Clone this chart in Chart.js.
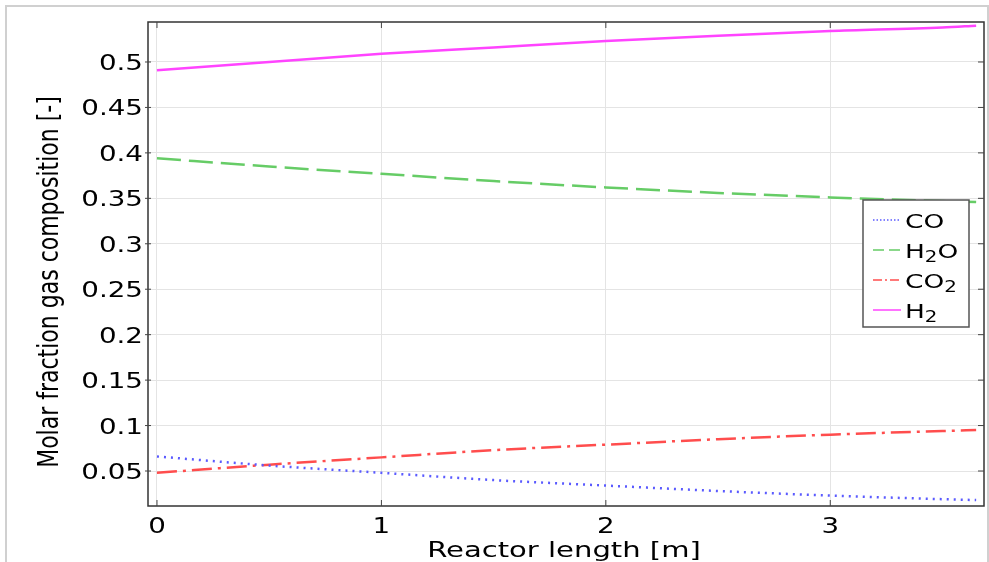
<!DOCTYPE html>
<html lang="en">
<head>
<meta charset="UTF-8">
<title>Molar fraction</title>
<script src="https://cdn.jsdelivr.net/npm/chart.js"></script>
<style>
    html, body { margin: 0; padding: 0; background: #fff; overflow: hidden; }
    #frame { position: absolute; left: 5px; top: 5px; width: 980px; height: 570px; border: 2px solid #d0d0d0; }
    #box { position: absolute; left: 0; top: 0; width: 989px; height: 562px; }
</style>
</head>
<body>
<div id="frame"></div>
<div id="box"><canvas id="myChart"></canvas></div>
<script>
    // dados
    var posicoes = [0, 0.5, 1, 1.5, 2, 2.5, 3, 3.5, 3.65];
    var serieCO  = [0.066, 0.056, 0.048, 0.040, 0.034, 0.028, 0.023, 0.019, 0.018];
    var serieH2O = [0.394, 0.385, 0.377, 0.369, 0.362, 0.356, 0.351, 0.347, 0.346];
    var serieCO2 = [0.048, 0.057, 0.065, 0.073, 0.079, 0.085, 0.090, 0.094, 0.095];
    var serieH2  = [0.491, 0.500, 0.509, 0.516, 0.523, 0.529, 0.534, 0.538, 0.540];
    var nomes = ['CO', 'H\u2082O', 'CO\u2082', 'H\u2082'];
    var ticksX = [0, 1, 2, 3];
    var ticksY = [0.05, 0.1, 0.15, 0.2, 0.25, 0.3, 0.35, 0.4, 0.45, 0.5];
    var tituloX = 'Reactor length [m]';
    var tituloY = 'Molar fraction gas composition [-]';

    function pontos(valores) {
        return posicoes.map(function (x, i) { return { x: x, y: valores[i] }; });
    }

    var fonte = '"DejaVu Sans"';
    var estica = 1.32; // o texto do original esta esticado na horizontal

    // escreve texto esticado, com o "2" em subscrito
    function escrever(c, txt, x, y, tam, alinhar) {
        var partes = txt.split('\u2082');
        c.save();
        c.translate(x, y);
        c.scale(estica, 1);
        c.textBaseline = 'alphabetic';
        var larg = 0;
        partes.forEach(function (p, i) {
            c.font = tam + 'px ' + fonte;
            larg += c.measureText(p).width;
            if (i < partes.length - 1) {
                c.font = Math.round(tam * 0.75) + 'px ' + fonte;
                larg += c.measureText('2').width;
            }
        });
        var px = alinhar == 'right' ? -larg : (alinhar == 'center' ? -larg / 2 : 0);
        c.textAlign = 'left';
        partes.forEach(function (p, i) {
            c.font = tam + 'px ' + fonte;
            c.fillText(p, px, 0);
            px += c.measureText(p).width;
            if (i < partes.length - 1) {
                c.font = Math.round(tam * 0.75) + 'px ' + fonte;
                c.fillText('2', px, tam * 0.22);
                px += c.measureText('2').width;
            }
        });
        c.restore();
    }

    // moldura, tracinhos, textos e legenda
    var moldura = {
        id: 'moldura',
        afterDatasetsDraw: function (chart) {
            var c = chart.ctx, a = chart.chartArea;
            var sx = chart.scales.x, sy = chart.scales.y;
            c.save();
            c.strokeStyle = '#333';
            c.lineWidth = 1.5;
            c.strokeRect(a.left, a.top, a.right - a.left, a.bottom - a.top);
            c.lineWidth = 1;
            c.strokeStyle = '#444';
            ticksX.forEach(function (t) {
                var px = sx.getPixelForValue(t);
                c.beginPath();
                c.moveTo(px, a.bottom); c.lineTo(px, a.bottom - 6);
                c.moveTo(px, a.top); c.lineTo(px, a.top + 6);
                c.stroke();
            });
            ticksY.forEach(function (t) {
                var py = sy.getPixelForValue(t);
                c.beginPath();
                c.moveTo(a.left - 3, py); c.lineTo(a.left + 3, py);
                c.moveTo(a.right, py); c.lineTo(a.right - 6, py);
                c.stroke();
            });

            // rotulos dos eixos
            c.fillStyle = '#000';
            ticksY.forEach(function (t) {
                escrever(c, String(t), a.left - 5, sy.getPixelForValue(t) + 8, 21, 'right');
            });
            ticksX.forEach(function (t) {
                escrever(c, String(t), sx.getPixelForValue(t), a.bottom + 27, 21, 'center');
            });
            escrever(c, tituloX, (a.left + a.right) / 2 - 2, 557, 22, 'center');

            c.save();
            c.translate(58, (a.top + a.bottom) / 2 + 18);
            c.scale(estica, 1);
            c.rotate(-Math.PI / 2);
            c.font = '22px ' + fonte;
            c.textAlign = 'center';
            c.textBaseline = 'alphabetic';
            c.fillText(tituloY, 0, 0);
            c.restore();

            // legenda
            var lx = a.right - 121, ly = 200, lw = 106, lh = 127;
            c.fillStyle = '#fff';
            c.fillRect(lx, ly, lw, lh);
            c.strokeStyle = '#555';
            c.lineWidth = 1.5;
            c.strokeRect(lx, ly, lw, lh);
            chart.data.datasets.forEach(function (ds, i) {
                var yy = ly + 20 + i * 30;
                c.save();
                c.strokeStyle = ds.borderColor;
                c.lineWidth = 1.5;
                c.setLineDash(ds.legendaDash);
                c.beginPath();
                c.moveTo(lx + 10, yy); c.lineTo(lx + 38, yy);
                c.stroke();
                c.restore();
                c.fillStyle = '#000';
                escrever(c, ds.label, lx + 42, yy + 8, 20, 'left');
            });
            c.restore();
        }
    };

    const ctx = document.getElementById('myChart');

    new Chart(ctx, {
        type: 'line',
        data: {
            datasets: [
                { label: nomes[0], data: pontos(serieCO), borderColor: '#5a5aff', borderDash: [2, 5], legendaDash: [1.5, 2] },
                { label: nomes[1], data: pontos(serieH2O), borderColor: '#66cc66', borderDash: [24, 8], legendaDash: [11, 5] },
                { label: nomes[2], data: pontos(serieCO2), borderColor: '#ff4d4d', borderDash: [20, 6, 3, 6], legendaDash: [9, 3, 2, 3] },
                { label: nomes[3], data: pontos(serieH2), borderColor: '#ff44ff', borderDash: [], legendaDash: [] }
            ]
        },
        options: {
            responsive: true,
            maintainAspectRatio: false,
            animation: false,
            layout: { padding: { left: 0, top: 22, right: 5, bottom: 0 } },
            elements: {
                point: { radius: 0 },
                line: { borderWidth: 2.5, cubicInterpolationMode: 'monotone', fill: false }
            },
            plugins: {
                legend: { display: false },
                tooltip: { enabled: false }
            },
            scales: {
                x: {
                    type: 'linear',
                    min: -0.04,
                    max: 3.685,
                    afterBuildTicks: function (s) { s.ticks = ticksX.map(function (v) { return { value: v }; }); },
                    afterFit: function (s) { s.height = 56; },
                    grid: { color: '#e4e4e4', tickLength: 0 },
                    border: { display: false },
                    ticks: { display: false }
                },
                y: {
                    min: 0.0115,
                    max: 0.544,
                    afterBuildTicks: function (s) { s.ticks = ticksY.map(function (v) { return { value: v }; }); },
                    afterFit: function (s) { s.width = 148; },
                    grid: { color: '#e4e4e4', tickLength: 0 },
                    border: { display: false },
                    ticks: { display: false }
                }
            }
        },
        plugins: [moldura]
    });
</script>
</body>
</html>
